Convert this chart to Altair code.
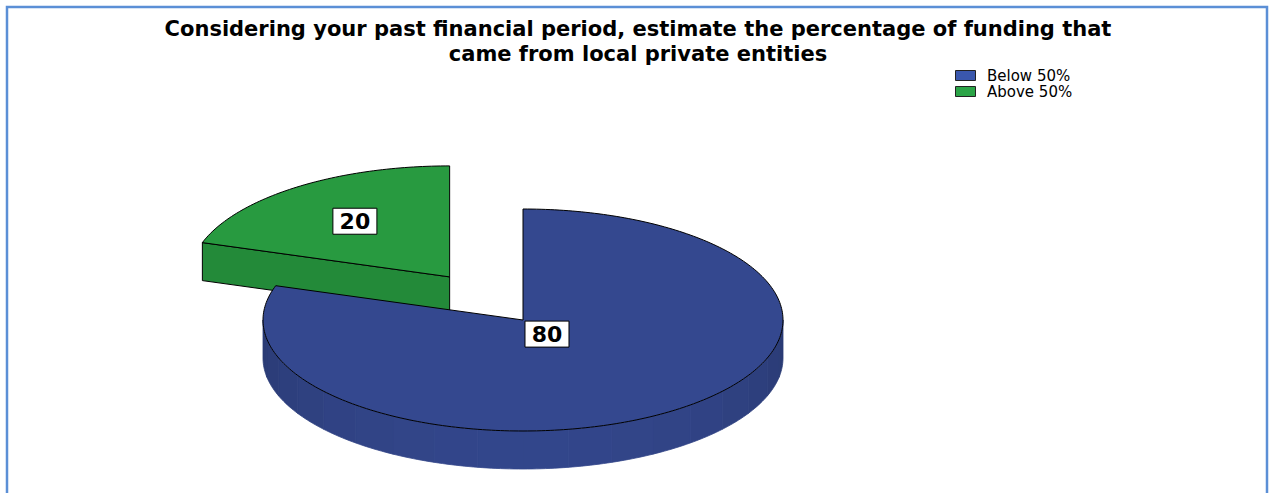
import altair as alt
import numpy as np
import pandas as pd

# ---------------- data ----------------
categories = ["Below 50%", "Above 50%"]
values = [80, 20]
value_labels = ["80", "20"]
title_lines = [
    "Considering your past financial period, estimate the percentage of funding that",
    "came from local private entities",
]

# ---------------- layout / style ----------------
W, H = 1274, 493
CX, CY = 523, 320          # pie centre in pixels
RX, RY = 260, 111          # ellipse radii of the top face
DEPTH = 38                 # thickness of the 3D pie
EXPLODE = [0.0, 0.48]      # explode fraction of each slice
LABEL_R = [0.157, 0.62]    # label position along the mid-angle
TOP = ["#34488f", "#289a40"]
SIDE = ["#34488f", "#238a39"]
LEGEND = ["#3a57ad", "#2ba447"]


def rim(cx, cy, th, dz=0.0):
    t = np.radians(th)
    return cx + RX * np.sin(t), cy - RY * np.cos(t) + dz


def arc_pts(cx, cy, a, b, dz=0.0, step=1.0):
    n = max(2, int(np.ceil(abs(b - a) / step)) + 1)
    return [rim(cx, cy, th, dz) for th in np.linspace(a, b, n)]


def shade(hex_color, f):
    r, g, b = (int(hex_color[i:i + 2], 16) for i in (1, 3, 5))
    return "#%02x%02x%02x" % tuple(min(255, int(round(c * f))) for c in (r, g, b))


total = float(sum(values))
bounds = np.concatenate([[0.0], np.cumsum(values) / total * 360.0])

slices = []
for k in range(len(values)):
    a0, a1 = bounds[k], bounds[k + 1]
    mid = np.radians((a0 + a1) / 2)
    cx = CX + EXPLODE[k] * RX * np.sin(mid)
    cy = CY - EXPLODE[k] * RY * np.cos(mid)
    slices.append((k, a0, a1, mid, cx, cy))

faces = []
for k, a0, a1, mid, cx, cy in sorted(slices, key=lambda s: s[5]):
    lo, hi = max(a0, 90.0), min(a1, 270.0)
    if hi > lo:
        edges = list(np.arange(lo, hi, 10.0)) + [hi]
        for j in range(len(edges) - 1):
            b0, b1 = edges[j], edges[j + 1]
            mb = np.radians((b0 + b1) / 2)
            f = 0.80 + 0.17 * max(0.0, -np.cos(mb))
            col = shade(SIDE[k], f)
            pts = arc_pts(cx, cy, b0, b1) + arc_pts(cx, cy, b1, b0, DEPTH)
            faces.append(dict(pts=pts, fill=col, stroke=col, sw=0.8))
    for ang, normal in ((a0, a0 - 90), (a1, a1 + 90)):
        if np.cos(np.radians(normal)) < -1e-6:
            p = rim(cx, cy, ang)
            pts = [p, (cx, cy), (cx, cy + DEPTH), (p[0], p[1] + DEPTH)]
            faces.append(dict(pts=pts, fill=SIDE[k], stroke="#000000", sw=1))
    pts = [(cx, cy)] + arc_pts(cx, cy, a0, a1)
    faces.append(dict(pts=pts, fill=TOP[k], stroke="#000000", sw=1))

rows = []
for fi, fc in enumerate(faces):
    pts = fc["pts"] + [fc["pts"][0]]
    for i, (x, y) in enumerate(pts):
        rows.append({"face": fi, "i": i, "x": float(x), "y": float(y)})
poly = pd.DataFrame(rows)

lab = []
for k, a0, a1, mid, cx, cy in slices:
    lx = cx + LABEL_R[k] * RX * np.sin(mid)
    ly = cy - LABEL_R[k] * RY * np.cos(mid)
    lab.append({"series": categories[k], "text": value_labels[k], "x": lx, "y": ly,
                "x0": lx - 22, "x1": lx + 22, "y0": ly - 13, "y1": ly + 13})
lab = pd.DataFrame(lab)

XS = alt.Scale(domain=[0, W], nice=False, zero=False)
YS = alt.Scale(domain=[H, 0], nice=False, zero=False)
X = alt.X("x:Q", scale=XS, axis=None)
Y = alt.Y("y:Q", scale=YS, axis=None)

one = pd.DataFrame({"a": [0]})

frame = alt.Chart(one).mark_rect(fillOpacity=0, stroke="#5b8fd6", strokeWidth=2.5).encode(
    x=alt.value(7), x2=alt.value(1267), y=alt.value(7), y2=alt.value(560)
)

legend_layer = alt.Chart(lab).mark_square(size=20, opacity=1).encode(
    x=X, y=Y,
    color=alt.Color(
        "series:N",
        scale=alt.Scale(domain=categories, range=LEGEND),
        legend=alt.Legend(
            orient="none", legendX=958, legendY=68, title=None,
            symbolType="M-2,-1H2V1H-2Z", symbolSize=100,
            symbolStrokeColor="#222222", symbolStrokeWidth=1, symbolOpacity=1,
            labelFont="DejaVu Sans", labelFontSize=15, labelColor="#000000",
            labelOffset=14, rowPadding=0, padding=0,
        ),
    ),
)

face_layers = []
for fi, fc in enumerate(faces):
    face_layers.append(
        alt.Chart(poly)
        .transform_filter(alt.datum.face == fi)
        .mark_line(fill=fc["fill"], stroke=fc["stroke"], strokeWidth=fc["sw"], strokeJoin="round")
        .encode(x=X, y=Y, order=alt.Order("i:Q"))
    )

boxes = alt.Chart(lab).mark_rect(fill="white", stroke="black", strokeWidth=1).encode(
    x=alt.X("x0:Q", scale=XS, axis=None), x2="x1:Q",
    y=alt.Y("y0:Q", scale=YS, axis=None), y2="y1:Q",
)
texts = alt.Chart(lab).mark_text(
    font="DejaVu Sans", fontSize=22, fontWeight="bold", color="black",
    align="center", baseline="middle", dy=1,
).encode(x=X, y=Y, text="text:N")

title = alt.Chart(one).mark_text(
    text=title_lines, font="DejaVu Sans", fontSize=21, fontWeight="bold",
    color="black", align="center", baseline="alphabetic", lineHeight=25,
).encode(x=alt.value(638), y=alt.value(36))

chart = alt.layer(frame, legend_layer, *face_layers, boxes, texts, title).properties(
    width=W, height=H, autosize=alt.AutoSizeParams(type="none"), padding=0,
    background="white",
).configure_view(stroke="transparent")

chart.save("out.html", embed_options={"renderer": "svg", "actions": False})
